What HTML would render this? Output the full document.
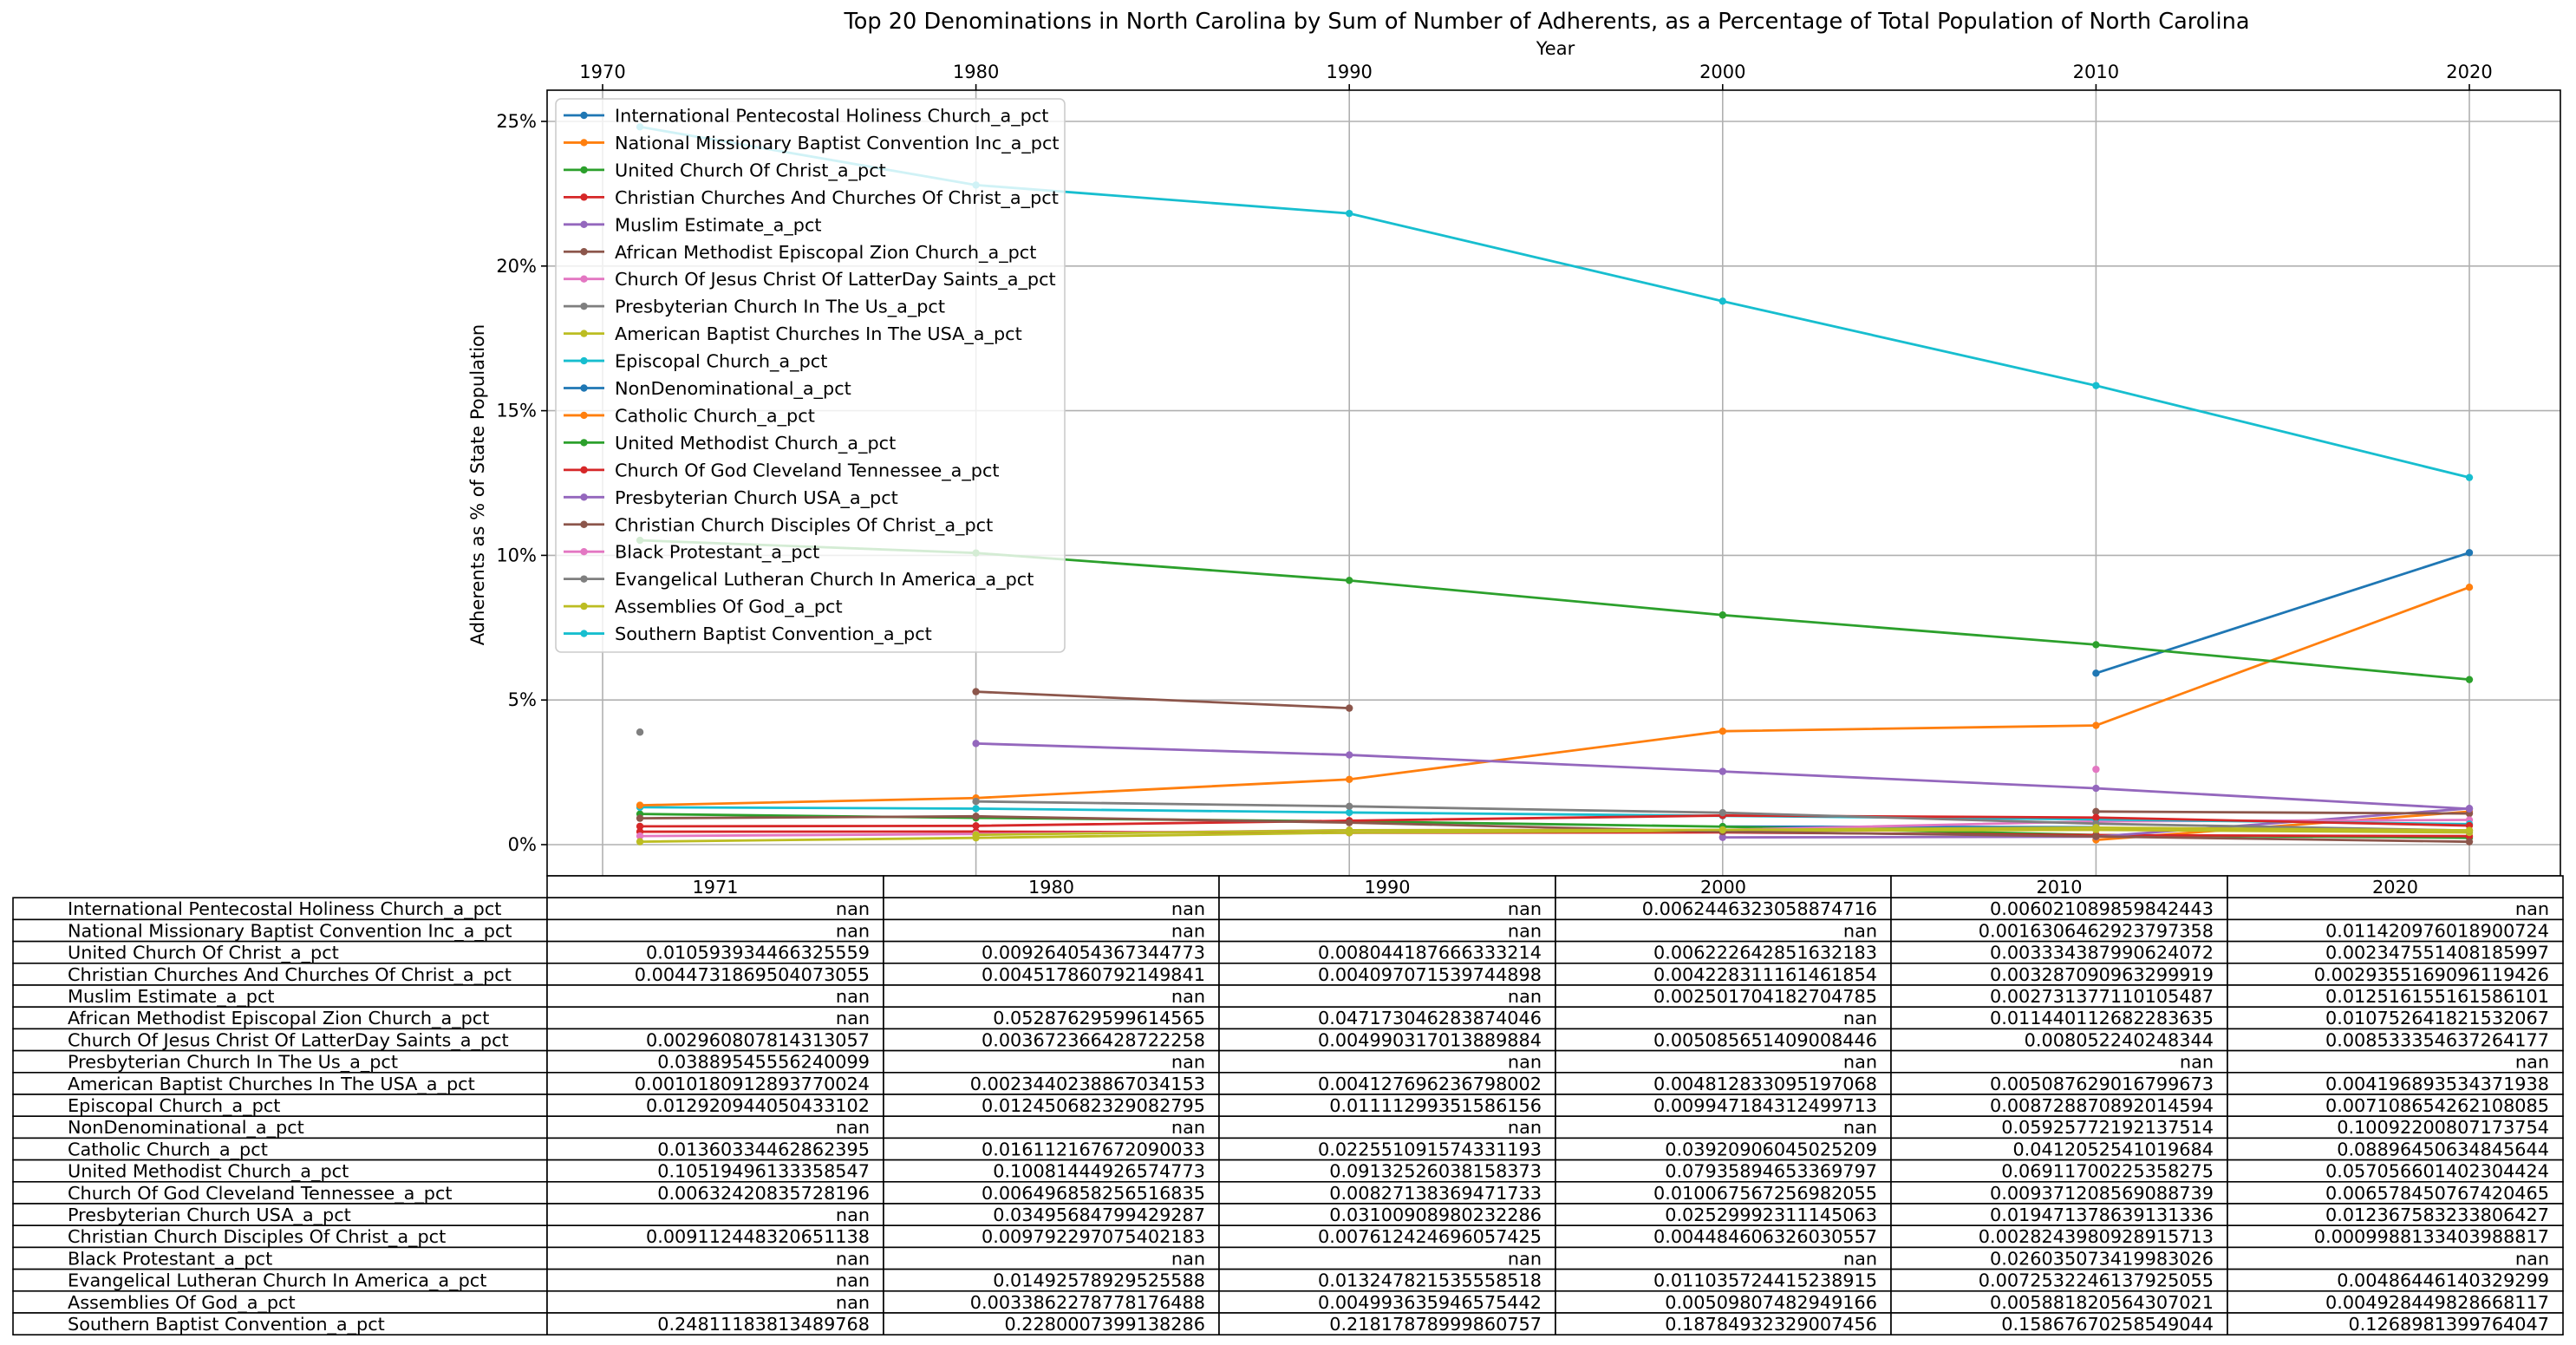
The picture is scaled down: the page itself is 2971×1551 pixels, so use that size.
<!DOCTYPE html>
<html><head><meta charset="utf-8">
<style>
html,body{margin:0;padding:0;background:#fff;}
svg{display:block;font-family:"DejaVu Sans","Liberation Sans",sans-serif;}
</style></head>
<body>
<svg id="chart" width="2971" height="1551" viewBox="0 0 2971 1551" xmlns="http://www.w3.org/2000/svg">
<text x="1784" y="33" font-size="25.6" text-anchor="middle" fill="#000">Top 20 Denominations in North Carolina by Sum of Number of Adherents, as a Percentage of Total Population of North Carolina</text>
<text x="1794" y="63" font-size="21" text-anchor="middle" fill="#000">Year</text>
<text x="0" y="0" font-size="21" text-anchor="middle" fill="#000" transform="translate(558,559) rotate(-90)">Adherents as % of State Population</text>
<g id="grid"></g><g id="series"></g><g id="axes"></g><g id="legend"></g><g id="table"></g>
</svg>
<script>
const years = [1971, 1980, 1990, 2000, 2010, 2020];
const xTicks = [1970, 1980, 1990, 2000, 2010, 2020];
const yTicks = [0, 5, 10, 15, 20, 25];
const yTickLabels = ["0%", "5%", "10%", "15%", "20%", "25%"];
const names = ["International Pentecostal Holiness Church_a_pct","National Missionary Baptist Convention Inc_a_pct","United Church Of Christ_a_pct","Christian Churches And Churches Of Christ_a_pct","Muslim Estimate_a_pct","African Methodist Episcopal Zion Church_a_pct","Church Of Jesus Christ Of LatterDay Saints_a_pct","Presbyterian Church In The Us_a_pct","American Baptist Churches In The USA_a_pct","Episcopal Church_a_pct","NonDenominational_a_pct","Catholic Church_a_pct","United Methodist Church_a_pct","Church Of God Cleveland Tennessee_a_pct","Presbyterian Church USA_a_pct","Christian Church Disciples Of Christ_a_pct","Black Protestant_a_pct","Evangelical Lutheran Church In America_a_pct","Assemblies Of God_a_pct","Southern Baptist Convention_a_pct"];
const s0 = [NaN,NaN,NaN,0.0062446323058874716,0.006021089859842443,NaN];
const s1 = [NaN,NaN,NaN,NaN,0.0016306462923797358,0.011420976018900724];
const s2 = [0.010593934466325559,0.009264054367344773,0.008044187666333214,0.006222642851632183,0.003334387990624072,0.002347551408185997];
const s3 = [0.0044731869504073055,0.004517860792149841,0.004097071539744898,0.004228311161461854,0.003287090963299919,0.0029355169096119426];
const s4 = [NaN,NaN,NaN,0.002501704182704785,0.002731377110105487,0.012516155161586101];
const s5 = [NaN,0.05287629599614565,0.047173046283874046,NaN,0.011440112682283635,0.010752641821532067];
const s6 = [0.002960807814313057,0.003672366428722258,0.004990317013889884,0.005085651409008446,0.008052240248344,0.008533354637264177];
const s7 = [0.03889545556240099,NaN,NaN,NaN,NaN,NaN];
const s8 = [0.0010180912893770024,0.0023440238867034153,0.004127696236798002,0.004812833095197068,0.005087629016799673,0.004196893534371938];
const s9 = [0.012920944050433102,0.012450682329082795,0.01111299351586156,0.009947184312499713,0.008728870892014594,0.007108654262108085];
const s10 = [NaN,NaN,NaN,NaN,0.05925772192137514,0.10092200807173754];
const s11 = [0.01360334462862395,0.016112167672090032,0.022551091574331193,0.03920906045025209,0.0412052541019684,0.08896450634845644];
const s12 = [0.10519496133358547,0.10081444926574773,0.09132526038158373,0.07935894653369797,0.06911700225358275,0.057056601402304424];
const s13 = [0.00632420835728196,0.006496858256516835,0.00827138369471733,0.010067567256982055,0.009371208569088739,0.006578450767420465];
const s14 = [NaN,0.03495684799429287,0.03100908980232286,0.02529992311145063,0.019471378639131336,0.012367583233806427];
const s15 = [0.009112448320651138,0.009792297075402183,0.007612424696057425,0.004484606326030557,0.0028243980928915713,0.0009988133403988817];
const s16 = [NaN,NaN,NaN,NaN,0.026035073419983026,NaN];
const s17 = [NaN,0.01492578929525588,0.013247821535558518,0.011035724415238915,0.0072532246137925055,0.00486446140329299];
const s18 = [NaN,0.0033862278778176488,0.004993635946575442,0.00509807482949166,0.005881820564307021,0.004928449828668117];
const s19 = [0.24811183813489768,0.2280007399138286,0.21817878999860757,0.18784932329007456,0.15867670258549044,0.1268981399764047];
const seriesValues = [s0,s1,s2,s3,s4,s5,s6,s7,s8,s9,s10,s11,s12,s13,s14,s15,s16,s17,s18,s19];

const NS = "http://www.w3.org/2000/svg";
const colors = ["#1f77b4","#ff7f0e","#2ca02c","#d62728","#9467bd","#8c564b","#e377c2","#7f7f7f","#bcbd22","#17becf"];
const L = 631, R = 2953, T = 104, B = 1010;
const x = yr => 695 + (yr - 1970) * 43.06;
const y = pct => 974 - pct * 33.36;
function mk(tag, attrs, parent) {
  const e = document.createElementNS(NS, tag);
  for (const k in attrs) e.setAttribute(k, attrs[k]);
  parent.appendChild(e);
  return e;
}
const grid = document.getElementById('grid');
const axes = document.getElementById('axes');
xTicks.forEach(t => {
  const g = mk('line', {x1: x(t), x2: x(t), y1: T, y2: B, stroke: '#b0b0b0', 'stroke-width': 1.6}, grid);
  
  
  mk('line', {x1: x(t), x2: x(t), y1: T - 7, y2: T, stroke: '#000', 'stroke-width': 1.6}, axes);
  const lb = mk('text', {x: x(t), y: T - 14, 'font-size': 21, 'text-anchor': 'middle'}, axes);
  lb.textContent = t;
  
  
});
yTicks.forEach((t, i) => {
  const g = mk('line', {x1: L, x2: R, y1: y(t), y2: y(t), stroke: '#b0b0b0', 'stroke-width': 1.6}, grid);
  
  
  mk('line', {x1: L - 7, x2: L, y1: y(t), y2: y(t), stroke: '#000', 'stroke-width': 1.6}, axes);
  const lb = mk('text', {x: L - 12, y: y(t) + 7, 'font-size': 21, 'text-anchor': 'end'}, axes);
  lb.textContent = yTickLabels[i];
  
  
});
const frame = mk('rect', {x: L, y: T, width: R - L, height: B - T, fill: 'none', stroke: '#000', 'stroke-width': 1.6}, axes);



const ser = document.getElementById('series');
seriesValues.forEach((vals, si) => {
  const c = colors[si % 10];
  const g = mk('g', {}, ser);
  
  
  let seg = [];
  const flush = () => {
    if (seg.length > 1) mk('polyline', {points: seg.join(' '), fill: 'none', stroke: c, 'stroke-width': 2.8, 'stroke-linejoin': 'round'}, g);
    seg = [];
  };
  vals.forEach((v, i) => {
    if (isNaN(v)) { flush(); return; }
    seg.push(x(years[i]) + ',' + y(v * 100));
  });
  flush();
  vals.forEach((v, i) => {
    if (isNaN(v)) return;
    const p = mk('circle', {cx: x(years[i]), cy: y(v * 100), r: 4.2, fill: c}, g);
    
    
  });
});

const leg = document.getElementById('legend');
const lb = mk('rect', {x: 641, y: 114, width: 587, height: 638, rx: 6, fill: 'rgba(255,255,255,0.8)', stroke: '#cccccc', 'stroke-width': 1.6}, leg);


names.forEach((n, i) => {
  const cy = 133 + i * 31.45;
  const c = colors[i % 10];
  const g = mk('g', {}, leg);
  
  
  mk('line', {x1: 650, x2: 697, y1: cy, y2: cy, stroke: c, 'stroke-width': 2.8}, g);
  mk('circle', {cx: 673.5, cy: cy, r: 4.2, fill: c}, g);
  const t = mk('text', {x: 709, y: cy + 7.5, 'font-size': 20.8}, g);
  t.textContent = n;
});

const tb = document.getElementById('table');
const colX = [15, 631, 1019, 1406, 1794, 2181, 2569, 2956];
const rowTop = 1010, rh = 25.2;
for (let j = 0; j < 6; j++) {
  const r = mk('rect', {x: colX[j + 1], y: rowTop, width: colX[j + 2] - colX[j + 1], height: rh, fill: '#fff', stroke: '#000', 'stroke-width': 1.6}, tb);
  
  
  const t = mk('text', {x: (colX[j + 1] + colX[j + 2]) / 2, y: rowTop + 20, 'font-size': 20.8, 'text-anchor': 'middle'}, tb);
  t.textContent = years[j];
}
names.forEach((n, i) => {
  const ry = rowTop + rh * (i + 1);
  const r0 = mk('rect', {x: colX[0], y: ry, width: colX[1] - colX[0], height: rh, fill: '#fff', stroke: '#000', 'stroke-width': 1.6}, tb);
  
  
  const t0 = mk('text', {x: 78, y: ry + 20, 'font-size': 20.8}, tb);
  t0.textContent = n;
  seriesValues[i].forEach((v, j) => {
    const r = mk('rect', {x: colX[j + 1], y: ry, width: colX[j + 2] - colX[j + 1], height: rh, fill: '#fff', stroke: '#000', 'stroke-width': 1.6}, tb);
    
    
    const t = mk('text', {x: colX[j + 2] - 16, y: ry + 20, 'font-size': 20.8, 'text-anchor': 'end'}, tb);
    t.textContent = isNaN(v) ? 'nan' : String(v);
  });
});
</script>
</body></html>
